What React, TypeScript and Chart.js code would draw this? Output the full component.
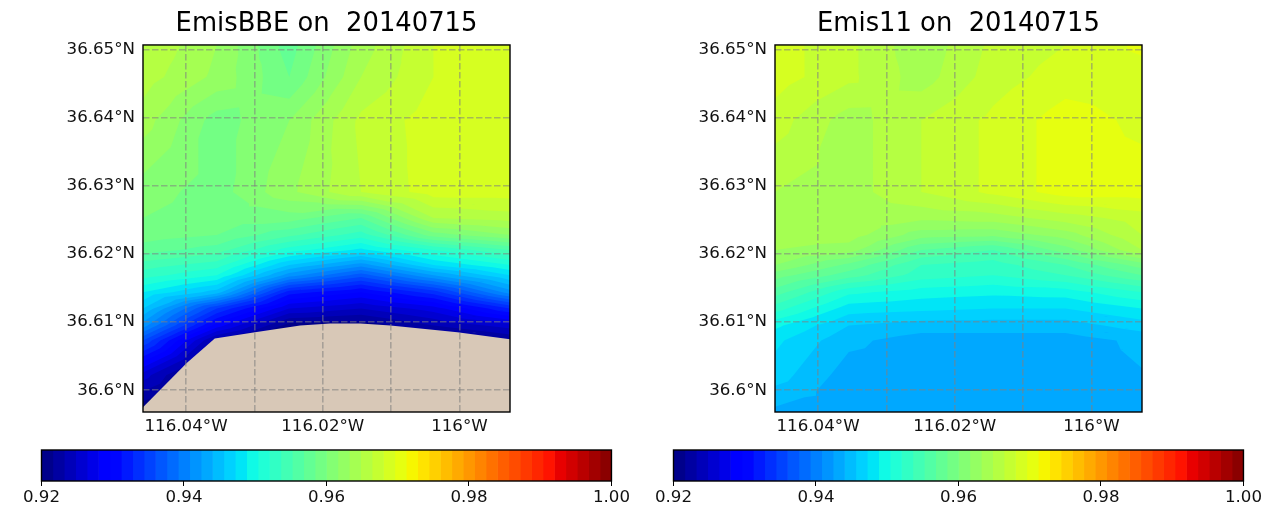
import React, { useEffect, useRef } from "react";
import { Chart, registerables } from "chart.js";

Chart.register(...registerables);
Chart.defaults.font.family = "'DejaVu Sans'";

const lonNodes = [-116.0463, -116.0355, -116.0249, -116.0144, -116.0038, -115.9926];
const latNodes = [36.6507, 36.646, 36.6396, 36.6291, 36.6253, 36.6228, 36.6206, 36.6184, 36.6169, 36.6144, 36.612, 36.6095, 36.6073, 36.6022, 36.5968];

const emisBBE = [
  [0.9664, 0.9632, 0.9576, 0.964, 0.968, 0.9692],
  [0.9656, 0.9628, 0.9584, 0.9648, 0.968, 0.9692],
  [0.964, 0.9592, 0.9616, 0.9668, 0.9688, 0.9696],
  [0.9608, 0.9592, 0.9628, 0.9664, 0.9688, 0.9688],
  [0.96, 0.9592, 0.9592, 0.9568, 0.9648, 0.9656],
  [0.9592, 0.9584, 0.9556, 0.9528, 0.9592, 0.9616],
  [0.9576, 0.956, 0.9512, 0.9484, 0.952, 0.9552],
  [0.9544, 0.9528, 0.9456, 0.9416, 0.9472, 0.9504],
  [0.9528, 0.9504, 0.9416, 0.9368, 0.9424, 0.9472],
  [0.9488, 0.9448, 0.932, 0.9296, 0.9336, 0.9416],
  [0.9456, 0.9344, 0.9264, 0.9248, 0.9272, 0.9328],
  [0.9416, 0.9288, 0.9208, 0.9205, 0.9232, 0.9256],
  [0.936, 0.9224, 0.918, 0.918, 0.919, 0.9216],
  [0.9256, 0.918, 0.918, 0.918, 0.918, 0.918],
  [0.92, 0.918, 0.918, 0.918, 0.918, 0.918],
];

const emis11 = [
  [0.9688, 0.9668, 0.9636, 0.9668, 0.968, 0.97],
  [0.9688, 0.9668, 0.964, 0.9672, 0.9688, 0.9688],
  [0.9672, 0.964, 0.9664, 0.9684, 0.9704, 0.9692],
  [0.9648, 0.964, 0.9664, 0.9684, 0.9704, 0.9704],
  [0.964, 0.964, 0.9636, 0.964, 0.9656, 0.9672],
  [0.964, 0.964, 0.9608, 0.9604, 0.9624, 0.9664],
  [0.9632, 0.9624, 0.9568, 0.9552, 0.9592, 0.9648],
  [0.9616, 0.958, 0.9536, 0.9528, 0.9552, 0.9592],
  [0.9592, 0.956, 0.9528, 0.952, 0.9536, 0.9568],
  [0.956, 0.9508, 0.9496, 0.9492, 0.9496, 0.952],
  [0.9528, 0.948, 0.9476, 0.9472, 0.9472, 0.9488],
  [0.9492, 0.9456, 0.9448, 0.9448, 0.9448, 0.9464],
  [0.9476, 0.9444, 0.9432, 0.9432, 0.9432, 0.9444],
  [0.9464, 0.9432, 0.9432, 0.9432, 0.9432, 0.9439],
  [0.9436, 0.9432, 0.9432, 0.9432, 0.9432, 0.9432],
];

const landLon = [-116.0463, -116.0399, -116.0358, -116.0299, -116.0233, -116.0189, -116.0145, -116.0101, -116.0003, -115.9926];
const landLat = [36.5975, 36.604, 36.6076, 36.6085, 36.6095, 36.6098, 36.6098, 36.6095, 36.6085, 36.6075];

const lonTicks = [-116.04, -116.03, -116.02, -116.01, -116.0];
const lonLabels = ["116.04°W", "", "116.02°W", "", "116°W"];
const latTicks = [36.6, 36.61, 36.62, 36.63, 36.64, 36.65];
const latLabels = ["36.6°N", "36.61°N", "36.62°N", "36.63°N", "36.64°N", "36.65°N"];

const cbTicks = [0.92, 0.94, 0.96, 0.98, 1.0];
const cbLabels = ["0.92", "0.94", "0.96", "0.98", "1.00"];
const vMin = 0.92;
const vMax = 1.0;
const bandCount = 50;

const jetR: number[][] = [[0, 0], [0.35, 0], [0.66, 1], [0.89, 1], [1, 0.5]];
const jetG: number[][] = [[0, 0], [0.125, 0], [0.375, 1], [0.64, 1], [0.91, 0], [1, 0]];
const jetB: number[][] = [[0, 0.5], [0.11, 1], [0.34, 1], [0.65, 0], [1, 0]];
function seg(t: number[][], p: number) {
  for (let i = 1; i < t.length; i++) {
    if (p <= t[i][0]) return t[i - 1][1] + ((p - t[i - 1][0]) / (t[i][0] - t[i - 1][0])) * (t[i][1] - t[i - 1][1]);
  }
  return t[t.length - 1][1];
}
function jet(p: number) {
  return `rgb(${Math.round(seg(jetR, p) * 255)},${Math.round(seg(jetG, p) * 255)},${Math.round(seg(jetB, p) * 255)})`;
}
const bands = Array.from({ length: bandCount }, (_, i) => {
  const lo = vMin + ((vMax - vMin) * i) / bandCount;
  const hi = vMin + ((vMax - vMin) * (i + 1)) / bandCount;
  return { lo, hi, color: jet((i + 0.5) / bandCount) };
});

type V = [number, number, number];
function clipAbove(poly: V[], level: number): V[] {
  const out: V[] = [];
  for (let i = 0; i < poly.length; i++) {
    const a = poly[i];
    const b = poly[(i + 1) % poly.length];
    const ia = a[2] >= level;
    const ib = b[2] >= level;
    if (ia) out.push(a);
    if (ia !== ib) {
      const t = (level - a[2]) / (b[2] - a[2]);
      out.push([a[0] + t * (b[0] - a[0]), a[1] + t * (b[1] - a[1]), level]);
    }
  }
  return out;
}

const contourPlugin = (grid: number[][]) => ({
  id: "contour",
  beforeDatasetsDraw(chart: any) {
    const { ctx, chartArea: ca, scales } = chart;
    const px = (v: number) => scales.x.getPixelForValue(v);
    const py = (v: number) => scales.y.getPixelForValue(v);
    ctx.save();
    ctx.beginPath();
    ctx.rect(ca.left, ca.top, ca.width, ca.height);
    ctx.clip();
    const tris: V[][] = [];
    for (let r = 0; r + 1 < latNodes.length; r++) {
      for (let c = 0; c + 1 < lonNodes.length; c++) {
        const p: V[] = [
          [lonNodes[c], latNodes[r], grid[r][c]],
          [lonNodes[c + 1], latNodes[r], grid[r][c + 1]],
          [lonNodes[c + 1], latNodes[r + 1], grid[r + 1][c + 1]],
          [lonNodes[c], latNodes[r + 1], grid[r + 1][c]],
        ];
        const m: V = [(p[0][0] + p[1][0]) / 2, (p[0][1] + p[3][1]) / 2, (p[0][2] + p[1][2] + p[2][2] + p[3][2]) / 4];
        for (let k = 0; k < 4; k++) tris.push([p[k], p[(k + 1) % 4], m]);
      }
    }
    // Each band paints everything at or above its lower level; the next band paints over it.
    for (const band of bands) {
      ctx.fillStyle = band.color;
      ctx.beginPath();
      for (const t of tris) {
        const poly = clipAbove(t, band.lo);
        if (poly.length < 3) continue;
        poly.forEach((q, i) => (i ? ctx.lineTo(px(q[0]), py(q[1])) : ctx.moveTo(px(q[0]), py(q[1]))));
        ctx.closePath();
      }
      ctx.fill();
    }
    ctx.restore();
  },
});

const framePlugin = (w: number) => ({
  id: "frame",
  afterDraw(chart: any) {
    const { ctx, chartArea: ca } = chart;
    ctx.save();
    ctx.strokeStyle = "#000";
    ctx.lineWidth = w;
    ctx.strokeRect(ca.left, ca.top, ca.width, ca.height);
    ctx.restore();
  },
});

const titleColor = "#000";
const tickColor = "#111";

function mapConfig(title: string, grid: number[][], land: boolean): any {
  const datasets: any[] = [
    {
      data: latNodes.flatMap((la) => lonNodes.map((lo) => ({ x: lo, y: la }))),
      pointRadius: 0,
      showLine: false,
    },
  ];
  if (land) {
    datasets.push({
      data: landLon.map((lo, i) => ({ x: lo, y: landLat[i] })),
      pointRadius: 0,
      showLine: true,
      borderWidth: 0,
      tension: 0,
      fill: "start",
      backgroundColor: "#d8c8b7",
    });
  }
  const gridOpts = { color: "rgba(128,128,128,0.55)", lineWidth: 1.6, z: 1, drawTicks: false };
  return {
    type: "scatter",
    data: { datasets },
    plugins: [contourPlugin(grid), framePlugin(1.4)],
    options: {
      animation: false,
      responsive: false,
      events: [],
      layout: { padding: { left: 0, right: 122, top: 0, bottom: 0 } },
      plugins: {
        legend: { display: false },
        tooltip: { enabled: false },
        title: {
          display: true,
          text: title,
          color: titleColor,
          fullSize: false,
          font: { size: 25.8, weight: "normal" },
          padding: { top: 9, bottom: 5 },
        },
      },
      scales: {
        x: {
          type: "linear",
          min: -116.0463,
          max: -115.9926,
          afterBuildTicks: (s: any) => {
            s.ticks = lonTicks.map((value) => ({ value }));
          },
          afterFit: (s: any) => {
            s.height = 28;
          },
          grid: gridOpts,
          border: { display: false, dash: [6.5, 2.5] },
          ticks: {
            autoSkip: false,
            maxRotation: 0,
            padding: 5,
            color: tickColor,
            font: { size: 16.67 },
            callback: (_: any, i: number) => lonLabels[i],
          },
        },
        y: {
          type: "linear",
          min: 36.5968,
          max: 36.6507,
          afterBuildTicks: (s: any) => {
            s.ticks = latTicks.map((value) => ({ value }));
          },
          afterFit: (s: any) => {
            s.width = 143;
          },
          grid: gridOpts,
          border: { display: false, dash: [6.5, 2.5] },
          ticks: {
            autoSkip: false,
            padding: 8,
            color: tickColor,
            font: { size: 16.67 },
            callback: (_: any, i: number) => latLabels[i],
          },
        },
      },
    },
  };
}

function barConfig(): any {
  return {
    type: "bar",
    data: {
      labels: [""],
      datasets: bands.map((b) => ({
        data: [[b.lo, b.hi]],
        backgroundColor: b.color,
        borderColor: b.color,
        borderWidth: 0,
        barPercentage: 1,
        categoryPercentage: 1,
        grouped: false,
      })),
    },
    plugins: [framePlugin(1.4)],
    options: {
      animation: false,
      responsive: false,
      events: [],
      indexAxis: "y",
      layout: { padding: { left: 41.5, right: 19.5, top: 10, bottom: 0 } },
      plugins: { legend: { display: false }, tooltip: { enabled: false }, title: { display: false } },
      scales: {
        x: {
          type: "linear",
          min: vMin,
          max: vMax,
          afterBuildTicks: (s: any) => {
            s.ticks = cbTicks.map((value) => ({ value }));
          },
          afterFit: (s: any) => {
            s.height = 25;
          },
          grid: { drawOnChartArea: false, drawTicks: true, tickLength: 5, tickColor: "#000", tickWidth: 1 },
          border: { display: false },
          ticks: {
            autoSkip: false,
            maxRotation: 0,
            padding: 2,
            color: tickColor,
            font: { size: 16.67 },
            callback: (_: any, i: number) => cbLabels[i],
          },
        },
        y: { display: false },
      },
    },
  };
}

function Panel({ left, top, w, h, config }: { left: number; top: number; w: number; h: number; config: () => any }) {
  const ref = useRef<HTMLCanvasElement>(null);
  useEffect(() => {
    const chart = new Chart(ref.current as HTMLCanvasElement, config());
    return () => chart.destroy();
  }, []);
  return <canvas ref={ref} width={w} height={h} style={{ position: "absolute", left, top, width: w, height: h, display: "block" }} />;
}

export default function App() {
  return (
    <div style={{ position: "absolute", left: 0, top: 0, width: 1264, height: 506, overflow: "hidden", background: "#fff" }}>
      <Panel left={0} top={0} w={632} h={440} config={() => mapConfig("EmisBBE on  20140715", emisBBE, true)} />
      <Panel left={632} top={0} w={632} h={440} config={() => mapConfig("Emis11 on  20140715", emis11, false)} />
      <Panel left={0} top={440} w={632} h={66} config={barConfig} />
      <Panel left={632} top={440} w={632} h={66} config={barConfig} />
    </div>
  );
}
